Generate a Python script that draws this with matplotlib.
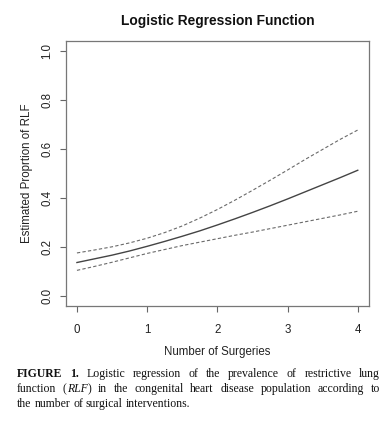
import matplotlib
matplotlib.use('Agg')
import matplotlib.pyplot as plt

# values
surgeries = [0, 0.25, 0.5, 0.75, 1, 1.25, 1.5, 1.75, 2, 2.25, 2.5, 2.75, 3, 3.25, 3.5, 3.75, 4]
fit = [0.136, 0.151, 0.166, 0.183, 0.202, 0.222, 0.243, 0.265, 0.289, 0.314,
       0.340, 0.367, 0.395, 0.424, 0.453, 0.482, 0.512]
upper = [0.175, 0.187, 0.200, 0.216, 0.235, 0.258, 0.285, 0.317, 0.352, 0.390,
         0.430, 0.471, 0.513, 0.556, 0.597, 0.638, 0.676]
lower = [0.104, 0.120, 0.137, 0.155, 0.173, 0.189, 0.205, 0.219, 0.233, 0.247,
         0.260, 0.274, 0.288, 0.302, 0.316, 0.330, 0.345]
x_ticks = [0, 1, 2, 3, 4]
y_ticks = [0.0, 0.2, 0.4, 0.6, 0.8, 1.0]

# caption words: (text, weight, style)
caption = [
    [('FIGURE', 'bold', 'normal'), ('1.', 'bold', 'normal'), ('Logistic', 'normal', 'normal'),
     ('regression', 'normal', 'normal'), ('of', 'normal', 'normal'), ('the', 'normal', 'normal'),
     ('prevalence', 'normal', 'normal'), ('of', 'normal', 'normal'), ('restrictive', 'normal', 'normal'),
     ('lung', 'normal', 'normal')],
    [('function', 'normal', 'normal'), ('(RLF)', 'normal', 'mixed'), ('in', 'normal', 'normal'),
     ('the', 'normal', 'normal'), ('congenital', 'normal', 'normal'), ('heart', 'normal', 'normal'),
     ('disease', 'normal', 'normal'), ('population', 'normal', 'normal'), ('according', 'normal', 'normal'),
     ('to', 'normal', 'normal')],
    [('the', 'normal', 'normal'), ('number', 'normal', 'normal'), ('of', 'normal', 'normal'),
     ('surgical', 'normal', 'normal'), ('interventions.', 'normal', 'normal')],
]

W, H = 389, 422
fig = plt.figure(figsize=(W / 100, H / 100), dpi=100)
plt.rcParams['font.family'] = ['Liberation Sans', 'DejaVu Sans']
ax_l, ax_r, ax_t, ax_b = 65.7, 369, 40.7, 305.7
ax = fig.add_axes([ax_l / W, 1 - ax_b / H, (ax_r - ax_l) / W, (ax_b - ax_t) / H])

ax.plot(surgeries, fit, '-', color='#444444', lw=1.0)
ax.plot(surgeries, upper, '--', color='#6a6a6a', lw=0.8, dashes=(3, 2))
ax.plot(surgeries, lower, '--', color='#6a6a6a', lw=0.8, dashes=(3, 2))

ax.set_xlim(-0.16, 4.16)
ax.set_ylim(-0.04, 1.04)
ax.set_xticks(x_ticks)
ax.set_yticks(y_ticks)
ax.set_xticklabels([str(t) for t in x_ticks], fontsize=8.3)
ax.set_yticklabels(['%.1f' % t for t in y_ticks], fontsize=8.3, rotation=90, va='center')
ax.tick_params(length=4.3, width=0.8, color='#666666', labelcolor='#222222')
ax.tick_params(axis='x', pad=8.6)
ax.tick_params(axis='y', pad=4.4)
for s in ax.spines.values():
    s.set_color('#777777')
    s.set_linewidth(0.9)

ax_h = ax_b - ax_t
ax_w = ax_r - ax_l
ax.set_title('Logistic Regression Function', fontsize=9.9, fontweight='bold', color='#111111',
             y=(ax_b - 20.7) / ax_h, pad=0, va='center')
ax.set_xlabel('Number of Surgeries', fontsize=8.3, color='#222222', va='center')
ax.set_ylabel('Estimated Proprtion of RLF', fontsize=8.3, color='#222222', va='center')
ax.xaxis.set_label_coords(0.5, (ax_b - 351.7) / ax_h)
ax.yaxis.set_label_coords((27.3 - ax_l) / ax_w, 0.5)

# caption, justified like in the paper
fig.canvas.draw()
renderer = fig.canvas.get_renderer()
left, right = 17, 380
baselines = [377, 392, 406.8]
fs = 8.5
serif = ['Liberation Serif', 'DejaVu Serif']
rlf_parts = [('(', 'normal'), ('RLF', 'italic'), (')', 'normal')]


def put(x, y, s, weight='normal', style='normal'):
    t = fig.text(x / W, 1 - y / H, s, fontsize=fs, family=serif, fontweight=weight,
                 fontstyle=style, va='baseline', ha='left', color='#111111')
    return t, t.get_window_extent(renderer).width


def measure(s, weight, style):
    t, w = put(0, 0, s, weight, style)
    t.remove()
    return w


for i, line in enumerate(caption):
    widths = []
    for word, weight, style in line:
        if style == 'mixed':
            widths.append(sum(measure(p, weight, st) for p, st in rlf_parts))
        else:
            widths.append(measure(word, weight, style))
    if i < len(caption) - 1:
        gap = (right - left - sum(widths)) / (len(line) - 1)
    else:
        gap = fs * 100 / 72 * 0.25
    x = left
    for (word, weight, style), w in zip(line, widths):
        if style == 'mixed':
            xx = x
            for p, st in rlf_parts:
                t, pw = put(xx, baselines[i], p, weight, st)
                xx += pw
        else:
            put(x, baselines[i], word, weight, style)
        x += w + gap

fig.savefig('out.png', dpi=100, facecolor='white')
